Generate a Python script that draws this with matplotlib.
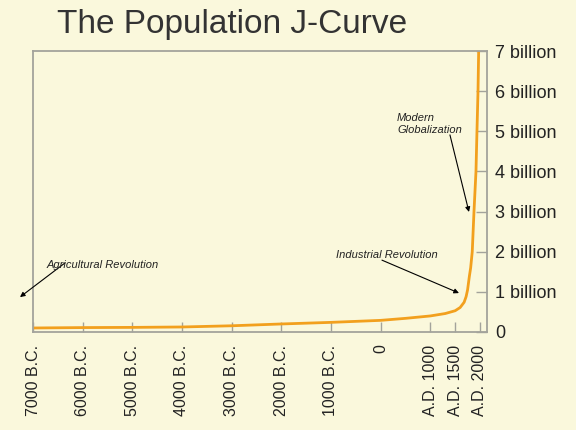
import matplotlib
matplotlib.use("Agg")
import matplotlib.pyplot as plt

# world population curve (years, billions)
years = [-7000, -6000, -5000, -4000, -3000, -2000, -1000, 0, 500, 1000, 1300,
         1500, 1600, 1680, 1720, 1750, 1785, 1812, 1844, 1879, 1919, 1939,
         1960, 1973]
pop = [0.10, 0.11, 0.115, 0.125, 0.155, 0.20, 0.24, 0.29, 0.34, 0.40, 0.46,
       0.53, 0.61, 0.74, 0.88, 1.05, 1.38, 1.60, 2.0, 3.0, 4.0, 5.0,
       6.0, 7.0]

x_ticks = [-7000, -6000, -5000, -4000, -3000, -2000, -1000, 0, 1000, 1500, 2000]
x_labels = ["7000 B.C.", "6000 B.C.", "5000 B.C.", "4000 B.C.", "3000 B.C.",
            "2000 B.C.", "1000 B.C.", "0", "A.D. 1000", "A.D. 1500", "A.D. 2000"]
y_ticks = [0, 1, 2, 3, 4, 5, 6, 7]
y_labels = ["0", "1 billion", "2 billion", "3 billion", "4 billion",
            "5 billion", "6 billion", "7 billion"]

bg = "#faf8dc"
grey = "#a3a39b"
ink = "#222222"

plt.rcParams["font.family"] = ["Liberation Sans", "DejaVu Sans"]

fig = plt.figure(figsize=(5.76, 4.3), dpi=100, facecolor=bg)
ax = fig.add_axes([33 / 576, 1 - 332 / 430, 454 / 576, 281 / 430])
ax.set_facecolor(bg)

ax.plot(years, pop, color="#f2a01e", lw=2.0, solid_capstyle="round",
        solid_joinstyle="round")

ax.set_xlim(-7000, 2141)
ax.set_ylim(0, 7)

ax.set_xticks(x_ticks)
ax.set_xticklabels(x_labels, rotation=90, va="top", fontsize=11.5, color=ink)
ax.yaxis.tick_right()
ax.set_yticks(y_ticks)
ax.set_yticklabels(y_labels, fontsize=13, color=ink)

ax.tick_params(axis="x", direction="in", length=7, width=1, color=grey, pad=9)
ax.tick_params(axis="y", direction="in", length=8, width=1, color=grey, pad=6)

for s in ax.spines.values():
    s.set_color(grey)
    s.set_linewidth(1.3)

fig.text(232 / 576, 1 - 33 / 430, "The Population J-Curve", ha="center",
         va="baseline", fontsize=24, color="#333333")

arrow = dict(arrowstyle="-|>", color="black", lw=0.8, mutation_scale=7,
             shrinkA=0, shrinkB=0)

ax.annotate("", xy=(-7262, 0.87), xytext=(-6356, 1.72), arrowprops=arrow,
            annotation_clip=False)
ax.text(-6718, 1.67, "Agricultural Revolution", ha="left", va="center",
        fontsize=8, style="italic", color=ink)

ax.annotate("", xy=(1577, 0.97), xytext=(26, 1.79), arrowprops=arrow,
            annotation_clip=False)
ax.text(-900, 1.92, "Industrial Revolution", ha="left", va="center",
        fontsize=8, style="italic", color=ink)

ax.annotate("", xy=(1778, 2.99), xytext=(1395, 4.91), arrowprops=arrow,
            annotation_clip=False)
ax.text(328, 5.18, "Modern\nGlobalization", ha="left", va="center",
        fontsize=8, style="italic", color=ink, linespacing=1.2)

fig.savefig("out.png", dpi=100, facecolor=bg)
